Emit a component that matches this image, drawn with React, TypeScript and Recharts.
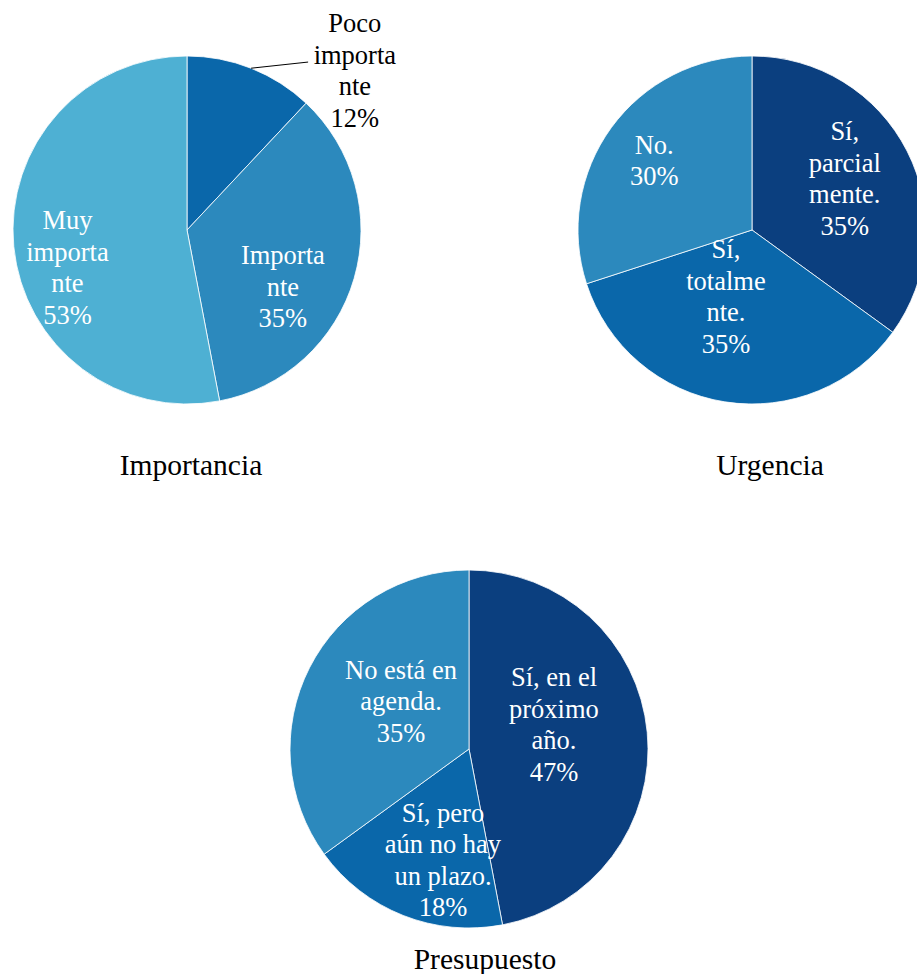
import React from "react";
import { PieChart, Pie, Cell } from "recharts";

// Importancia
const importanciaCategories = ["Poco importante", "Importante", "Muy importante"];
const importanciaValues = [12, 35, 53];
const importanciaLines = [["Poco", "importa", "nte"], ["Importa", "nte"], ["Muy", "importa", "nte"]];

// Urgencia
const urgenciaCategories = ["Sí, parcialmente.", "Sí, totalmente.", "No."];
const urgenciaValues = [35, 35, 30];
const urgenciaLines = [["Sí,", "parcial", "mente."], ["Sí,", "totalme", "nte."], ["No."]];

// Presupuesto
const presupuestoCategories = ["Sí, en el próximo año.", "Sí, pero aún no hay un plazo.", "No está en agenda."];
const presupuestoValues = [47, 18, 35];
const presupuestoLines = [["Sí, en el", "próximo", "año."], ["Sí, pero", "aún no hay", "un plazo."], ["No está en", "agenda."]];

const NAVY = "#0B3F7F";
const BLUE = "#0A67AA";
const STEEL = "#2C89BD";
const LIGHT = "#4EB0D3";

const FONT = '"Liberation Serif", "Times New Roman", serif';
const LABEL_SIZE = 26.5;
const LINE_H = 31.5;

type Place = { r: number; da: number; outside?: boolean; lr?: number; lda?: number };

// label placement (fraction of radius, angle nudge from slice middle)
const importanciaPlaces: Place[] = [
  { r: 1.33, da: -24.9, outside: true, lr: 1.19, lda: -14.2 },
  { r: 0.64, da: -14.4 },
  { r: 0.72, da: 12 },
];
const urgenciaPlaces: Place[] = [
  { r: 0.61, da: 2.1 },
  { r: 0.41, da: -12.4 },
  { r: 0.69, da: 0.5 },
];
const presupuestoPlaces: Place[] = [
  { r: 0.494, da: 10.7 },
  { r: 0.637, da: 8.4 },
  { r: 0.465, da: -8.2 },
];

const toData = (cats: string[], vals: number[]) => cats.map((name, i) => ({ name, value: vals[i] }));

const RAD = Math.PI / 180;

const makeLabel = (lines: string[][], places: Place[]) => (props: any) => {
  const { cx, cy, midAngle, outerRadius, index, value } = props;
  const p = places[index];
  const a = (midAngle + p.da) * RAD;
  const x = cx + outerRadius * p.r * Math.cos(-a);
  const y = cy + outerRadius * p.r * Math.sin(-a);
  const txt = [...lines[index], `${value}%`];
  const n = txt.length;
  let leader = null;
  if (p.outside) {
    const m = midAngle * RAD;
    const la = (midAngle + (p.lda || 0)) * RAD;
    leader = (
      <line
        x1={cx + outerRadius * Math.cos(-m)}
        y1={cy + outerRadius * Math.sin(-m)}
        x2={cx + outerRadius * (p.lr || 1) * Math.cos(-la)}
        y2={cy + outerRadius * (p.lr || 1) * Math.sin(-la)}
        stroke="#000"
        strokeWidth={1}
      />
    );
  }
  return (
    <g>
      {leader}
      {txt.map((t, i) => (
        <text
          key={i}
          x={x}
          y={y + (i - (n - 1) / 2) * LINE_H}
          textAnchor="middle"
          dominantBaseline="central"
          fill={p.outside ? "#000" : "#fff"}
          fontFamily={FONT}
          fontSize={LABEL_SIZE}
        >
          {t}
        </text>
      ))}
    </g>
  );
};

const titleStyle = { fontFamily: FONT, fontSize: 29.5, fill: "#000" };

export default function App() {
  const importancia = toData(importanciaCategories, importanciaValues);
  const urgencia = toData(urgenciaCategories, urgenciaValues);
  const presupuesto = toData(presupuestoCategories, presupuestoValues);

  return (
    <div style={{ position: "absolute", left: 0, top: 0, width: 917, height: 974, background: "#fff" }}>
      <PieChart width={917} height={974} margin={{ top: 0, right: 0, bottom: 0, left: 0 }}>
        <Pie
          data={importancia}
          dataKey="value"
          nameKey="name"
          cx={187}
          cy={230}
          outerRadius={174}
          startAngle={90}
          endAngle={-270}
          stroke="#fff"
          strokeWidth={0.8}
          label={makeLabel(importanciaLines, importanciaPlaces)}
          labelLine={false}
          isAnimationActive={false}
        >
          {[BLUE, STEEL, LIGHT].map((c, i) => (
            <Cell key={i} fill={c} />
          ))}
        </Pie>
        <Pie
          data={urgencia}
          dataKey="value"
          nameKey="name"
          cx={752}
          cy={230}
          outerRadius={174}
          startAngle={90}
          endAngle={-270}
          stroke="#fff"
          strokeWidth={0.8}
          label={makeLabel(urgenciaLines, urgenciaPlaces)}
          labelLine={false}
          isAnimationActive={false}
        >
          {[NAVY, BLUE, STEEL].map((c, i) => (
            <Cell key={i} fill={c} />
          ))}
        </Pie>
        <Pie
          data={presupuesto}
          dataKey="value"
          nameKey="name"
          cx={469}
          cy={749}
          outerRadius={179}
          startAngle={90}
          endAngle={-270}
          stroke="#fff"
          strokeWidth={0.8}
          label={makeLabel(presupuestoLines, presupuestoPlaces)}
          labelLine={false}
          isAnimationActive={false}
        >
          {[NAVY, BLUE, STEEL].map((c, i) => (
            <Cell key={i} fill={c} />
          ))}
        </Pie>
      </PieChart>
      <svg width={917} height={974} style={{ position: "absolute", left: 0, top: 0, pointerEvents: "none" }}>
        <text x={191} y={465} textAnchor="middle" dominantBaseline="central" style={titleStyle}>
          Importancia
        </text>
        <text x={770} y={465} textAnchor="middle" dominantBaseline="central" style={titleStyle}>
          Urgencia
        </text>
        <text x={485} y={959} textAnchor="middle" dominantBaseline="central" style={titleStyle}>
          Presupuesto
        </text>
      </svg>
    </div>
  );
}
